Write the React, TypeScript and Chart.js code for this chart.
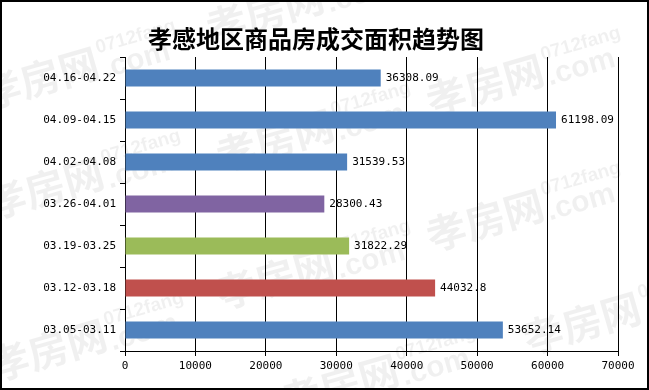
import React, { useEffect, useRef } from "react";
import { Chart, registerables } from "chart.js";

Chart.register(...registerables);

const TITLE = "孝感地区商品房成交面积趋势图";
const categories = [
  "04.16-04.22",
  "04.09-04.15",
  "04.02-04.08",
  "03.26-04.01",
  "03.19-03.25",
  "03.12-03.18",
  "03.05-03.11",
];
const values = [36308.09, 61198.09, 31539.53, 28300.43, 31822.29, 44032.8, 53652.14];
const valueLabels = ["36308.09", "61198.09", "31539.53", "28300.43", "31822.29", "44032.8", "53652.14"];
const barColors = ["#4F81BD", "#4F81BD", "#4F81BD", "#8064A2", "#9BBB59", "#C0504D", "#4F81BD"];
const xMin = 0;
const xMax = 70000;
const xStep = 10000;

const MONO = '"DejaVu Sans Mono", monospace';

const watermarkSpots: [number, number][] = [
  [40, 78], [45, 188], [48, 350], [265, 12], [275, 140], [275, 278],
  [340, 385], [485, 85], [485, 220], [582, 323],
];

function drawTile(ctx: CanvasRenderingContext2D, cx: number, cy: number) {
  ctx.save();
  ctx.translate(cx, cy);
  ctx.rotate(-0.28);
  ctx.fillStyle = "rgba(0,0,0,0.06)";
  ctx.textBaseline = "middle";
  ctx.textAlign = "center";
  ctx.font = 'bold 40px "Noto Sans CJK SC"';
  ctx.fillText("孝房网", 0, 0);
  ctx.textAlign = "left";
  ctx.font = 'bold 19px "Liberation Sans"';
  ctx.fillText("0712fang", 62, -13);
  ctx.font = 'bold 30px "Liberation Sans"';
  ctx.fillText(".com", 62, 10);
  ctx.restore();
}

const decorPlugin = {
  id: "decor",
  beforeDraw(chart: any) {
    const ctx = chart.ctx as CanvasRenderingContext2D;
    ctx.save();
    ctx.fillStyle = "#ffffff";
    ctx.fillRect(0, 0, chart.width, chart.height);
    for (const [x, y] of watermarkSpots) drawTile(ctx, x, y);
    ctx.restore();
  },
  afterDatasetsDraw(chart: any) {
    const ctx = chart.ctx as CanvasRenderingContext2D;
    const meta = chart.getDatasetMeta(0);
    ctx.save();
    ctx.fillStyle = "#000";
    ctx.font = "11px " + MONO;
    ctx.textAlign = "left";
    ctx.textBaseline = "middle";
    meta.data.forEach((bar: any, i: number) => {
      ctx.fillText(valueLabels[i], bar.x + 5, bar.y + 0.5);
    });
    ctx.restore();
  },
  afterDraw(chart: any) {
    const ctx = chart.ctx as CanvasRenderingContext2D;
    ctx.save();
    ctx.fillStyle = "#000";
    ctx.font = 'bold 24px "Noto Sans CJK SC"';
    ctx.textAlign = "center";
    ctx.textBaseline = "middle";
    ctx.fillText(TITLE, 316, 39);
    ctx.strokeStyle = "#000";
    ctx.lineWidth = 2;
    ctx.strokeRect(1, 1, chart.width - 2, chart.height - 2);
    ctx.restore();
  },
};

export default function App() {
  const ref = useRef<HTMLCanvasElement | null>(null);
  useEffect(() => {
    document.body.style.margin = "0";
    const canvas = ref.current;
    if (!canvas) return;
    const chart = new Chart(canvas, {
      type: "bar",
      data: {
        labels: categories,
        datasets: [
          {
            data: values,
            backgroundColor: barColors,
            borderWidth: 0,
            categoryPercentage: 1,
            barPercentage: 0.4,
          },
        ],
      },
      options: {
        indexAxis: "y",
        animation: false,
        responsive: false,
        devicePixelRatio: 1,
        layout: { padding: { left: 0, right: 31, top: 57, bottom: 9 } },
        plugins: {
          legend: { display: false },
          tooltip: { enabled: false },
          title: { display: false },
        },
        scales: {
          x: {
            type: "linear",
            min: xMin,
            max: xMax,
            afterFit: (s: any) => {
              s.height = 30;
            },
            ticks: {
              stepSize: xStep,
              color: "#000",
              font: { family: MONO, size: 11 },
              padding: 4,
              maxRotation: 0,
              callback: (v: any) => String(v),
            },
            grid: {
              color: "#000",
              lineWidth: 1,
              tickLength: 5,
              drawTicks: true,
            },
            border: { display: true, color: "#000", width: 1 },
          },
          y: {
            type: "category",
            afterFit: (s: any) => {
              s.width = 125;
            },
            ticks: {
              color: "#000",
              font: { family: MONO, size: 11 },
              padding: 4,
            },
            grid: {
              offset: true,
              drawOnChartArea: false,
              drawTicks: true,
              tickLength: 5,
              color: "#000",
            },
            border: { display: true, color: "#000", width: 1 },
          },
        },
      },
      plugins: [decorPlugin],
    } as any);
    return () => chart.destroy();
  }, []);
  return (
    <div style={{ position: "absolute", left: 0, top: 0, width: 649, height: 390 }}>
      <canvas ref={ref} width={649} height={390} style={{ display: "block" }} />
    </div>
  );
}
